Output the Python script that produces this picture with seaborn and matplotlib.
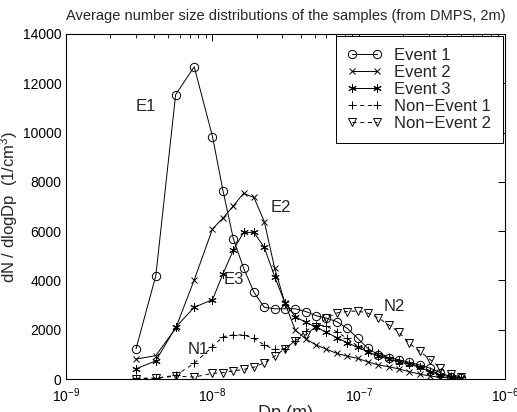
import numpy as np
import pandas as pd
import matplotlib
matplotlib.use("Agg")
import matplotlib.pyplot as plt
import seaborn as sns
from matplotlib.ticker import LogLocator, MultipleLocator, NullFormatter

# ---- data ----
dp = [3.0e-9, 4.1e-9, 5.6e-9, 7.5e-9,
      1.00e-8, 1.18e-8, 1.39e-8, 1.63e-8, 1.92e-8, 2.26e-8, 2.66e-8, 3.13e-8,
      3.68e-8, 4.34e-8, 5.11e-8, 6.01e-8, 7.07e-8, 8.33e-8, 9.80e-8, 1.15e-7,
      1.36e-7, 1.60e-7, 1.88e-7, 2.21e-7, 2.61e-7, 3.07e-7, 3.61e-7, 4.25e-7,
      5.00e-7]

event1 = [1220, 4200, 11540, 12670, 9840, 7640, 5680, 4510, 3520, 2910, 2850,
          2850, 2850, 2740, 2570, 2470, 2330, 2060, 1660, 1250, 980, 870, 780,
          680, 570, 440, 260, 90, 50]
event2 = [810, 950, 2060, 4020, 6090, 6530, 7030, 7530, 7370, 6390, 4500, 3080,
          1990, 1630, 1380, 1210, 1040, 930, 840, 700, 570, 500, 410, 300, 200,
          120, 70, 50, 30]
event3 = [410, 740, 2100, 2910, 3220, 4270, 5240, 5950, 5950, 5340, 4160, 3080,
          2530, 2300, 2110, 1900, 1680, 1480, 1290, 1110, 930, 810, 700, 600,
          480, 300, 160, 90, 60]
nonevent1 = [30, 40, 150, 640, 1310, 1720, 1790, 1790, 1650, 1380, 1200, 1230,
             1550, 1950, 2200, 2150, 1920, 1650, 1340, 1180, 1040, 910, 770, 640,
             500, 340, 200, 120, 70]
nonevent2 = [20, 30, 120, 80, 230, 260, 330, 390, 480, 660, 930, 1230, 1560,
             1800, 2130, 2470, 2680, 2740, 2760, 2680, 2480, 2200, 1900, 1450,
             1130, 790, 450, 190, 80]

labels = ["Event 1", "Event 2", "Event 3", "Non\u2212Event 1", "Non\u2212Event 2"]
series = [event1, event2, event3, nonevent1, nonevent2]

annot_text = ["E1", "E2", "E3", "N1", "N2"]
annot_pos = [(3.5e-9, 11050), (2.95e-8, 6970), (1.40e-8, 4020), (8.0e-9, 1180), (1.76e-7, 2940)]

# ---- style ----
sns.set_theme(style="white")
plt.rcParams["font.family"] = ["Liberation Sans", "DejaVu Sans"]
plt.rcParams["mathtext.fontset"] = "custom"
plt.rcParams["mathtext.rm"] = "Liberation Sans"
plt.rcParams["mathtext.it"] = "Liberation Sans:italic"

fig = plt.figure(figsize=(5.17, 4.12), dpi=100)
ax = fig.add_axes([0.128, 0.080, 0.849, 0.8375])

asterisk = (6, 2, 0)
styles = [
    dict(marker="o", linestyle="-", markersize=6),
    dict(marker="x", linestyle="-", markersize=4),
    dict(marker=asterisk, linestyle="-", markersize=6),
    dict(marker="+", linestyle=(0, (4, 4)), markersize=6),
    dict(marker="v", linestyle=(0, (4, 4)), markersize=6),
]

for lab, vals, st in zip(labels, series, styles):
    df = pd.DataFrame({"Dp": dp, "N": vals})
    sns.lineplot(data=df, x="Dp", y="N", ax=ax, color="black", linewidth=0.7,
                 markerfacecolor="none", markeredgecolor="black",
                 markeredgewidth=0.7, label=lab, sort=False, errorbar=None, **st)

ax.set_xscale("log")
ax.set_xlim(1e-9, 1e-6)
ax.set_ylim(0, 14000)
ax.yaxis.set_major_locator(MultipleLocator(2000))
ax.xaxis.set_major_locator(LogLocator(base=10, numticks=10))
ax.xaxis.set_minor_locator(LogLocator(base=10, subs=np.arange(2, 10), numticks=100))
ax.xaxis.set_minor_formatter(NullFormatter())

ax.tick_params(axis="both", which="both", direction="in", top=True, right=True,
               labelsize=10, colors="black")
ax.tick_params(which="major", length=5, width=0.7)
ax.tick_params(which="minor", length=3, width=0.6)
ax.tick_params(axis="x", which="major", pad=5)
for s in ax.spines.values():
    s.set_color("black")
    s.set_linewidth(0.8)

ax.set_title("Average number size distributions of the samples (from DMPS, 2m)",
             fontsize=10.5, pad=10)
ax.set_xlabel("Dp (m)", fontsize=13, labelpad=0)
ax.set_ylabel("dN / dlogDp  (1/cm$^3$)", fontsize=12, labelpad=2)

for t, (x, y) in zip(annot_text, annot_pos):
    ax.text(x, y, t, fontsize=12, ha="center", va="center")

leg = ax.legend(loc="upper right", fontsize=12, numpoints=2, handlelength=2.1,
                fancybox=False, edgecolor="black", framealpha=1,
                borderaxespad=0.15, labelspacing=0.12, handletextpad=0.7,
                borderpad=0.7)
leg.get_frame().set_linewidth(0.7)

fig.savefig("out.png", dpi=100)
